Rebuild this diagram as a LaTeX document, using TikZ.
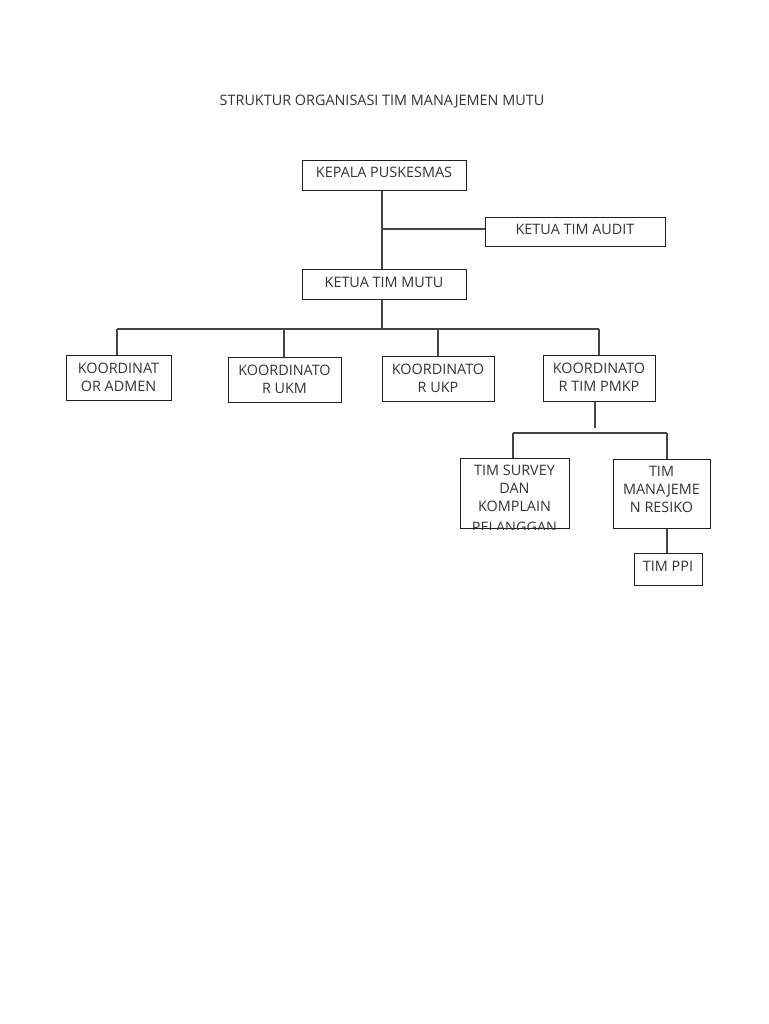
\documentclass[tikz,border=0pt]{standalone}
\usepackage{fontspec}
\setmainfont{Open Sans}
\definecolor{txtc}{HTML}{333333}
\definecolor{linec}{HTML}{444444}
\definecolor{boxc}{HTML}{1E1E1E}
\begin{document}
\begin{tikzpicture}[x=1pt,y=-1pt,
  box/.style={draw=boxc, line width=1pt, anchor=north west, inner sep=0pt},
  txt/.style={anchor=base, inner sep=0pt, text=txtc, font=\fontsize{14.4}{18}\selectfont},
  conn/.style={draw=linec, line width=1.1pt}]
\useasboundingbox[fill=white] (0,0) rectangle (768,1024);
% title
\node[txt] (title) at (382,106) {STRUKTUR ORGANISASI TIM MANAJEMEN MUTU};
% boxes
\node[box, minimum width=164pt, minimum height=30pt] (kp) at (302,160) {};
\node[box, minimum width=180pt, minimum height=29pt] (ka) at (485,217) {};
\node[box, minimum width=164pt, minimum height=30pt] (km) at (302,269) {};
\node[box, minimum width=105pt, minimum height=45pt] (ad) at (66,355) {};
\node[box, minimum width=113pt, minimum height=45pt] (ukm) at (228,357) {};
\node[box, minimum width=112pt, minimum height=45pt] (ukp) at (382,356) {};
\node[box, minimum width=112pt, minimum height=46pt] (pm) at (543,355) {};
\node[box, minimum width=109pt, minimum height=70pt] (ts) at (460,458) {};
\node[box, minimum width=97pt, minimum height=69pt] (mr) at (613,459) {};
\node[box, minimum width=68pt, minimum height=32pt] (ppi) at (634,553) {};
% texts
\node[txt] at (384,178) {KEPALA PUSKESMAS};
\node[txt] at (575,235) {KETUA TIM AUDIT};
\node[txt] at (384,287) {KETUA TIM MUTU};
\node[txt] at (118.5,373) {KOORDINAT};
\node[txt] at (118.5,391) {OR ADMEN};
\node[txt] at (284.5,375) {KOORDINATO};
\node[txt] at (284.5,393) {R UKM};
\node[txt] at (438,374) {KOORDINATO};
\node[txt] at (438,392) {R UKP};
\node[txt] at (599,373) {KOORDINATO};
\node[txt] at (599,391) {R TIM PMKP};
\begin{scope}
\clip (ts.north west) rectangle (ts.south east);
\node[txt] at (514.5,475) {TIM SURVEY};
\node[txt] at (514.5,493) {DAN};
\node[txt] at (514.5,511) {KOMPLAIN};
\node[txt] at (514.5,532) {PELANGGAN};
\end{scope}
\node[txt] at (661.5,476) {TIM};
\node[txt] at (661.5,494) {MANAJEME};
\node[txt] at (661.5,512) {N RESIKO};
\node[txt] at (668,571) {TIM PPI};
% connectors
\coordinate (j1) at (382,229);
\coordinate (bus) at (382,329);
\coordinate (busL) at (117,329);
\coordinate (busR) at (599,329);
\coordinate (pmEnd) at (595,428);
\coordinate (bus2L) at (513,433);
\coordinate (bus2R) at (667,433);
\draw[conn] (kp.south -| j1) -- (km.north -| j1);
\draw[conn] (j1) -- (ka.west |- j1);
\draw[conn] (km.south -| bus) -- (bus);
\draw[conn] (busL) -- (busR);
\draw[conn] (busL) -- (ad.north -| busL);
\draw[conn] (284,329) -- (ukm.north -| 284,0);
\draw[conn] (438,329) -- (ukp.north -| 438,0);
\draw[conn] (busR) -- (pm.north -| busR);
\draw[conn] (pm.south -| pmEnd) -- (pmEnd);
\draw[conn] (bus2L) -- (bus2R);
\draw[conn] (bus2L) -- (ts.north -| bus2L);
\draw[conn] (bus2R) -- (mr.north -| bus2R);
\draw[conn] (mr.south -| bus2R) -- (ppi.north -| bus2R);
\end{tikzpicture}
\end{document}
